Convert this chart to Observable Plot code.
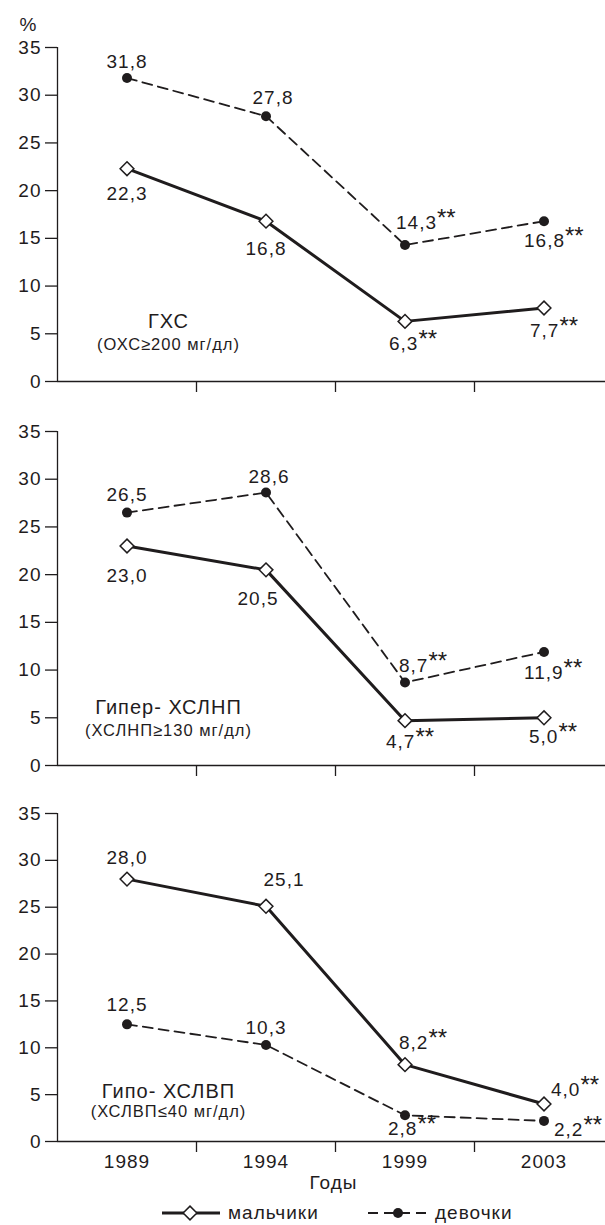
<!DOCTYPE html>
<html><head><meta charset="utf-8">
<script src="https://cdn.jsdelivr.net/npm/d3@7"></script>
<script src="https://cdn.jsdelivr.net/npm/@observablehq/plot@0.6"></script>
<style>
html,body{margin:0;padding:0;background:#fff;}
body{width:605px;height:1225px;overflow:hidden;font-family:"Liberation Sans",Arial,sans-serif;color:#231f20;position:relative;}
#chart svg{display:block;}
#chart text{letter-spacing:1px;}
#legend{position:absolute;left:0;top:1200px;}
#legend text{letter-spacing:1px;}
</style></head>
<body><div id="chart"></div><svg id="legend" width="605" height="25"></svg>
<script>
// ---- data ----
const years = ["1989", "1994", "1999", "2003"];
const significant = [false, false, true, true];
const boysTC = [22.3, 16.8, 6.3, 7.7];
const girlsTC = [31.8, 27.8, 14.3, 16.8];
const boysLDL = [23.0, 20.5, 4.7, 5.0];
const girlsLDL = [26.5, 28.6, 8.7, 11.9];
const boysHDL = [28.0, 25.1, 8.2, 4.0];
const girlsHDL = [12.5, 10.3, 2.8, 2.2];
const yTicks = [0, 5, 10, 15, 20, 25, 30, 35];
const panelTitles = ["ГХС", "Гипер- ХСЛНП", "Гипо- ХСЛВП"];
const panelSubtitles = ["(ОХС≥200 мг/дл)", "(ХСЛНП≥130 мг/дл)", "(ХСЛВП≤40 мг/дл)"];
const seriesNames = ["мальчики", "девочки"];
const xLabel = "Годы";
const yUnit = "%";

// ---- layout (label placement: [side, textAnchor, dx, dy]) ----
const INK = "#1f1c1d";
const FONT = '"Liberation Sans", Arial, sans-serif';
const layouts = [
  {height: 400, marginTop: 47, marginBottom: 19, titleDy: -54, subDy: -32,
   boys:  [["b","middle",0,18],["b","middle",0,20],["b","start",-16,15],["b","start",-14,15]],
   girls: [["a","middle",0,-10],["a","middle",7,-12],["a","start",-9,-16],["b","start",-20,12]]},
  {height: 400, marginTop: 31, marginBottom: 35, titleDy: -52, subDy: -30,
   boys:  [["b","middle",0,22],["b","middle",-8,22],["b","start",-19,14],["b","start",-15,12]],
   girls: [["a","middle",0,-12],["a","middle",3,-10],["a","start",-6,-10],["b","start",-20,14]]},
  {height: 400, marginTop: 13, marginBottom: 59, titleDy: -44, subDy: -25,
   boys:  [["a","middle",0,-15],["a","middle",18,-20],["a","start",-6,-16],["a","start",7,-8]],
   girls: [["a","middle",0,-13],["a","middle",0,-11],["b","start",-17,6],["b","start",10,2]]}
];
const panels = [[boysTC, girlsTC], [boysLDL, girlsLDL], [boysHDL, girlsHDL]];
const fmt = v => v.toFixed(1).replace(".", ",");

function rows(vals) {
  return vals.map((v, j) => ({j, v, label: fmt(v) + (significant[j] ? "**" : "")}));
}

function labelMarks(data, place) {
  return data.map((d, j) => {
    const [side, anchor, dx, dy] = place[j];
    return Plot.text([d], {x: "j", y: "v", text: "label", textAnchor: anchor,
      lineAnchor: side === "a" ? "bottom" : "top", dx, dy, fontSize: 19, fill: INK});
  });
}

const chart = document.getElementById("chart");
panels.forEach(([boys, girls], p) => {
  const L = layouts[p];
  const bRows = rows(boys), gRows = rows(girls);
  const marks = [
    Plot.ruleY([0], {stroke: INK, strokeWidth: 1.3}),
    Plot.ruleX([-0.5], {stroke: INK, strokeWidth: 1.3}),
    Plot.axisY({ticks: yTicks, tickSize: 12, tickPadding: 4, label: null, stroke: INK, strokeWidth: 1.3, fill: INK, fontSize: 19}),
    Plot.axisX({ticks: [0.5, 1.5, 2.5], tickSize: 11, tickFormat: () => "", label: null, stroke: INK, strokeWidth: 1.3}),
    Plot.line(gRows, {x: "j", y: "v", stroke: INK, strokeWidth: 1.8, strokeDasharray: "10,6"}),
    Plot.line(bRows, {x: "j", y: "v", stroke: INK, strokeWidth: 3}),
    Plot.dot(gRows, {x: "j", y: "v", r: 5, fill: INK, stroke: "none"}),
    Plot.dot(bRows, {x: "j", y: "v", symbol: "diamond2", r: 6.2, fill: "white", stroke: INK, strokeWidth: 1.5}),
    ...labelMarks(bRows, L.boys),
    ...labelMarks(gRows, L.girls),
    Plot.text([panelTitles[p]], {frameAnchor: "bottom-left", dx: 111, dy: L.titleDy, textAnchor: "middle", lineAnchor: "bottom", fontSize: 20, fill: INK}),
    Plot.text([panelSubtitles[p]], {frameAnchor: "bottom-left", dx: 111, dy: L.subDy, textAnchor: "middle", lineAnchor: "bottom", fontSize: 16.5, fill: INK})
  ];
  if (p === 0) {
    marks.push(Plot.text([yUnit], {frameAnchor: "top-left", dx: -29, dy: -17, textAnchor: "middle", lineAnchor: "bottom", fontSize: 19, fill: INK}));
  }
  if (p === 2) {
    marks.push(Plot.axisX({ticks: [0, 1, 2, 3], tickSize: 0, tickPadding: 13, tickFormat: i => years[i], label: null, fill: INK, fontSize: 19}));
    marks.push(Plot.text([xLabel], {frameAnchor: "bottom", dx: 2, dy: 47, lineAnchor: "bottom", fontSize: 19, fill: INK}));
  }
  const svg = Plot.plot({
    width: 605, height: L.height,
    marginTop: L.marginTop, marginBottom: L.marginBottom, marginLeft: 57, marginRight: 0,
    style: {fontSize: "19px", fontFamily: FONT, color: INK, background: "white", overflow: "hidden"},
    x: {domain: [-0.5, 3.5], range: [57, 613]},
    y: {domain: [0, 35]},
    marks
  });
  // raise significance asterisks
  d3.select(svg).selectAll("text").each(function() {
    const t = this.textContent;
    if (t.endsWith("**") && this.childElementCount === 0) {
      this.textContent = t.slice(0, -2);
      d3.select(this).append("tspan").attr("dy", -3).attr("font-size", 24).attr("letter-spacing", "0px").text("**");
    }
  });
  chart.appendChild(svg);
});

// ---- legend ----
const lg = d3.select("#legend");
lg.append("line").attr("x1", 162).attr("x2", 220).attr("y1", 13).attr("y2", 13).attr("stroke", INK).attr("stroke-width", 3);
lg.append("path").attr("d", d3.symbol(d3.symbolDiamond2, Math.PI * 6.2 * 6.2)()).attr("transform", "translate(190,13)")
  .attr("fill", "white").attr("stroke", INK).attr("stroke-width", 1.5);
lg.append("text").attr("x", 228).attr("y", 19).attr("font-size", 19).attr("fill", INK).attr("font-family", FONT).text(seriesNames[0]);
lg.append("line").attr("x1", 368).attr("x2", 426).attr("y1", 13).attr("y2", 13).attr("stroke", INK).attr("stroke-width", 1.8).attr("stroke-dasharray", "10,6");
lg.append("circle").attr("cx", 398).attr("cy", 13).attr("r", 5).attr("fill", INK);
lg.append("text").attr("x", 435).attr("y", 19).attr("font-size", 19).attr("fill", INK).attr("font-family", FONT).text(seriesNames[1]);
</script>
</body></html>
